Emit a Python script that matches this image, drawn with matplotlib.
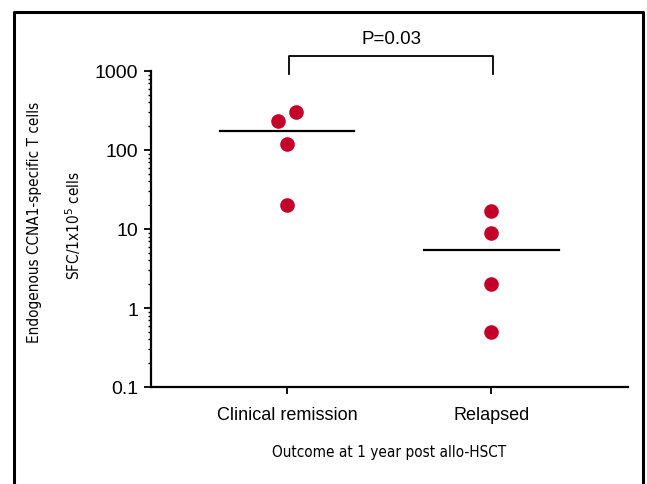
import matplotlib
matplotlib.use("Agg")
import matplotlib.pyplot as plt
from matplotlib import font_manager
from matplotlib.lines import Line2D
from matplotlib.ticker import LogLocator, NullFormatter, FixedLocator, FixedFormatter

# Data
groups = ["Clinical remission", "Relapsed"]
remission_vals = [233, 302, 119, 20]
remission_jitter = [-0.045, 0.045, 0.0, 0.0]
relapsed_vals = [17, 9, 2, 0.5]
relapsed_jitter = [0.0, 0.0, 0.0, 0.0]
medians = [176, 5.5]
y_ticks = [0.1, 1, 10, 100, 1000]
y_tick_labels = ["0.1", "1", "10", "100", "1000"]
p_text = "P=0.03"

RED = "#C4002A"

fonts = font_manager.fontManager.ttflist
installed = {f.name for f in fonts}
plain_font = "Liberation Sans" if "Liberation Sans" in installed else "DejaVu Sans"
if "Liberation Sans Narrow" in installed:
    narrow_font = dict(family="Liberation Sans Narrow")
    narrow_size = 14.5
elif any(f.name == "DejaVu Sans" and f.stretch == "condensed" for f in fonts):
    narrow_font = dict(family="DejaVu Sans", stretch="condensed")
    narrow_size = 11
else:
    narrow_font = dict(family=plain_font)
    narrow_size = 11.5

plt.rcParams["font.family"] = [plain_font, "DejaVu Sans"]

fig = plt.figure(figsize=(6.47, 4.85), dpi=100)
ax = fig.add_axes([151 / 647, 1 - 388 / 485, (628 - 151) / 647, (388 - 72) / 485])

ax.set_yscale("log")
ax.set_ylim(0.1, 1000)
ax.set_xlim(-0.667, 1.67)

# points
for x0, vals, jit in [(0, remission_vals, remission_jitter), (1, relapsed_vals, relapsed_jitter)]:
    ax.plot([x0 + j for j in jit], vals, "o", color=RED, markersize=10.5,
            markeredgewidth=0, clip_on=False, zorder=3)

# median bars
for i, m in enumerate(medians):
    ax.plot([i - 0.33, i + 0.33], [m, m], color="black", lw=1.6, zorder=2)

# significance bracket
ax.plot([0.01, 0.01, 1.01, 1.01], [920, 1550, 1550, 920], color="black", lw=1.3, clip_on=False)
ax.text(0.51, 2000, p_text, ha="center", va="bottom", fontsize=13.5)

# axes styling
for s in ["top", "right"]:
    ax.spines[s].set_visible(False)
for s in ["left", "bottom"]:
    ax.spines[s].set_linewidth(1.6)

ax.yaxis.set_major_locator(FixedLocator(y_ticks))
ax.yaxis.set_major_formatter(FixedFormatter(y_tick_labels))
ax.yaxis.set_minor_locator(LogLocator(base=10, subs=range(2, 10)))
ax.yaxis.set_minor_formatter(NullFormatter())
ax.tick_params(axis="y", which="major", length=5, width=1.3, labelsize=14, pad=4)
ax.tick_params(axis="y", which="minor", length=2.5, width=1.0)

ax.set_xticks([0, 1])
ax.set_xticklabels(groups)
ax.tick_params(axis="x", length=5, width=1.3, labelsize=13, pad=9)

ax.set_xlabel("Outcome at 1 year post allo-HSCT", fontsize=narrow_size, labelpad=15, **narrow_font)

fig.text(35 / 647, 1 - 222 / 485, "Endogenous CCNA1-specific T cells", rotation=90,
         ha="center", va="center", fontsize=narrow_size, **narrow_font)
fig.text(73 / 647, 1 - 226 / 485, r"SFC/1x10$^5$ cells", rotation=90,
         ha="center", va="center", fontsize=narrow_size, **narrow_font)

# outer frame (open at the bottom edge)
x_l, x_r, y_t = 14 / 647, 643 / 647, 1 - 13 / 485
fig.add_artist(Line2D([x_l, x_l, x_r, x_r], [0, y_t, y_t, 0], color="black", lw=2.2,
                      transform=fig.transFigure))

fig.savefig("out.png", dpi=100)
